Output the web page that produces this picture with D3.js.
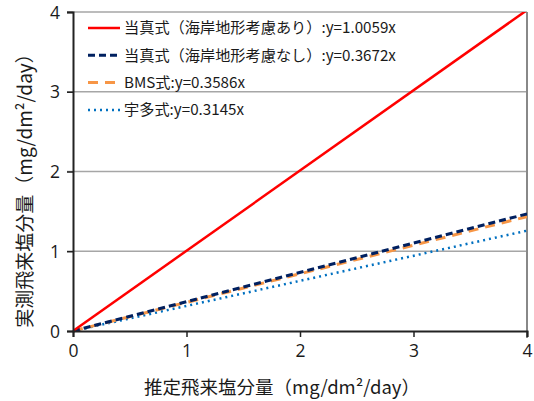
<!DOCTYPE html>
<html>
<head>
<meta charset="utf-8">
<script src="https://cdn.jsdelivr.net/npm/d3@7"></script>
<style>
  body { margin: 0; background: #fff; }
  text { font-family: "Noto Sans CJK JP", "Open Sans", sans-serif; fill: #1a1a1a; }
</style>
</head>
<body>
<script>
// series: name, slope label, values at x = 0 and x = 4
var names = ["当真式（海岸地形考慮あり）", "当真式（海岸地形考慮なし）", "BMS式", "宇多式"];
var eqs = ["y=1.0059x", "y=0.3672x", "y=0.3586x", "y=0.3145x"];
var xs = [0, 4];
var ysRed = [0, 4.0236];
var ysNavy = [0, 1.4688];
var ysOrange = [0, 1.4344];
var ysBlue = [0, 1.258];
var ticks = [0, 1, 2, 3, 4];

var margin = {top: 12, right: 7, bottom: 70, left: 73},
    width = 534 - margin.left - margin.right,
    height = 401 - margin.top - margin.bottom;

var x = d3.scaleLinear().domain([0, 4]).range([0, width]);
var y = d3.scaleLinear().domain([0, 4]).range([height, 0]);

var svg = d3.select("body").append("svg")
    .attr("width", 534)
    .attr("height", 401)
  .append("g")
    .attr("transform", "translate(" + margin.left + "," + margin.top + ")");

// gridlines
svg.append("g")
    .selectAll("line")
    .data(ticks.slice(1))
    .enter().append("line")
    .attr("x1", -6).attr("x2", width)
    .attr("y1", function(d) { return y(d); })
    .attr("y2", function(d) { return y(d); })
    .attr("stroke", "#a6a6a6")
    .attr("stroke-width", 1.3);

// right border
svg.append("line")
    .attr("x1", width).attr("x2", width)
    .attr("y1", 0).attr("y2", height + 7)
    .attr("stroke", "#888")
    .attr("stroke-width", 2);

svg.append("defs").append("clipPath").attr("id", "clip")
  .append("rect").attr("x", 0).attr("y", 0).attr("width", width).attr("height", height);

var line = d3.line()
    .x(function(d) { return x(d[0]); })
    .y(function(d) { return y(d[1]); });

var series = [
  {vals: ysRed, color: "#ff0000", w: 2.5, dash: null},
  {vals: ysNavy, color: "#002060", w: 3, dash: "7,4"},
  {vals: ysOrange, color: "#f79646", w: 3, dash: "10,7"},
  {vals: ysBlue, color: "#0070c0", w: 2.5, dash: "2,4"}
];

var plot = svg.append("g").attr("clip-path", "url(#clip)");
// draw order: blue, orange, navy, red
[3, 2, 1, 0].forEach(function(i) {
  var s = series[i];
  plot.append("path")
    .attr("d", line(d3.zip(xs, s.vals)))
    .attr("fill", "none")
    .attr("stroke", s.color)
    .attr("stroke-width", s.w)
    .attr("stroke-dasharray", s.dash);
});

// axes
var xAxis = svg.append("g")
    .attr("transform", "translate(0," + height + ")")
    .call(d3.axisBottom(x).tickValues(ticks).tickSize(6).tickPadding(8).tickFormat(d3.format("d")));
var yAxis = svg.append("g")
    .call(d3.axisLeft(y).tickValues(ticks).tickSize(6).tickPadding(7).tickFormat(d3.format("d")));

[xAxis, yAxis].forEach(function(a) {
  a.select(".domain").attr("stroke", "#222").attr("stroke-width", 2);
  a.selectAll(".tick line").attr("stroke", "#222").attr("stroke-width", 1.5);
  a.selectAll(".tick text").attr("font-size", 17.5).attr("fill", "#1a1a1a")
    .style("font-family", "'Open Sans', sans-serif");
});
yAxis.selectAll(".tick text").attr("dy", "0.35em");

// legend
var legend = svg.append("g").attr("transform", "translate(15,16)");
var rows = legend.selectAll("g")
    .data(series)
    .enter().append("g")
    .attr("transform", function(d, i) { return "translate(0," + (i * 27.3) + ")"; });
rows.append("line")
    .attr("x1", 0).attr("x2", 32)
    .attr("stroke", function(d) { return d.color; })
    .attr("stroke-width", function(d) { return d.w; })
    .attr("stroke-dasharray", function(d) { return d.dash; });
rows.append("text")
    .attr("x", 36)
    .attr("dy", "0.35em")
    .attr("font-size", 15.2)
    .text(function(d, i) { return names[i] + ":" + eqs[i]; });

// axis titles
svg.append("text")
    .attr("x", 209)
    .attr("y", height + 63)
    .attr("text-anchor", "middle")
    .attr("font-size", 18.5)
    .text("推定飛来塩分量（mg/dm²/day）");

svg.append("text")
    .attr("transform", "translate(-48," + (186 - margin.top) + ") rotate(-90)")
    .attr("text-anchor", "middle")
    .attr("dy", "0.35em")
    .attr("font-size", 19)
    .text("実測飛来塩分量（mg/dm²/day）");
</script>
</body>
</html>
